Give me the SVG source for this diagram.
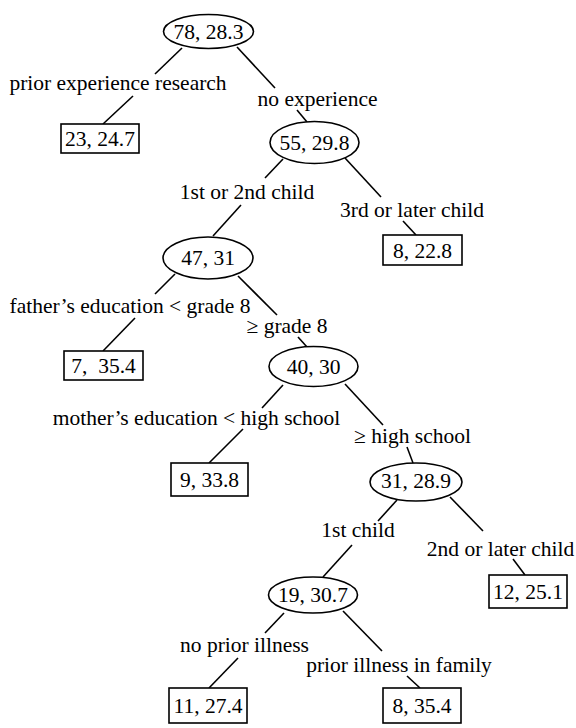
<svg xmlns="http://www.w3.org/2000/svg" width="576" height="728" viewBox="0 0 576 728">
<style>
text{font-family:"Liberation Serif","Times New Roman",serif;font-size:21.5px;fill:#000;text-anchor:middle}
.n ellipse,.n rect{fill:#fff;stroke:#000;stroke-width:1.6}
#edges line{stroke:#000;stroke-width:1.6}
</style>
<rect width="576" height="728" fill="#fff"/>
<g id="edges">
<line x1="182" y1="48" x2="155" y2="74"/><line x1="133" y1="96" x2="103" y2="124"/>
<line x1="237" y1="47" x2="275" y2="88"/><line x1="297" y1="110" x2="307" y2="122"/>
<line x1="283" y1="159" x2="265" y2="178"/><line x1="241" y1="205" x2="213" y2="236"/>
<line x1="345" y1="158" x2="381" y2="197"/><line x1="403" y1="221" x2="416" y2="235"/>
<line x1="175" y1="274" x2="155" y2="294"/><line x1="135" y1="318" x2="103" y2="351"/>
<line x1="238" y1="276" x2="277" y2="315"/><line x1="298" y1="337" x2="307" y2="347"/>
<line x1="283" y1="385" x2="262" y2="408"/><line x1="243" y1="429" x2="209" y2="463"/>
<line x1="345" y1="384" x2="383" y2="425"/><line x1="407" y1="447" x2="413" y2="463"/>
<line x1="397" y1="500" x2="378" y2="521"/><line x1="352" y1="545" x2="323" y2="577"/>
<line x1="450" y1="497" x2="483" y2="531"/><line x1="513" y1="559" x2="525" y2="575"/>
<line x1="284" y1="613" x2="265" y2="633"/><line x1="238" y1="658" x2="209" y2="688"/>
<line x1="343" y1="611" x2="382" y2="651"/><line x1="407" y1="676" x2="420" y2="688"/>
</g>
<g id="labels">
<text x="118" y="90">prior experience research</text>
<text x="317.5" y="106">no experience</text>
<text x="247" y="199">1st or 2nd child</text>
<text x="412" y="217">3rd or later child</text>
<text x="130" y="313">father’s education &lt; grade 8</text>
<text x="287" y="333">≥ grade 8</text>
<text x="196.5" y="425">mother’s education &lt; high school</text>
<text x="412.5" y="443">≥ high school</text>
<text x="358" y="537">1st child</text>
<text x="500.5" y="556">2nd or later child</text>
<text x="244.5" y="652">no prior illness</text>
<text x="399" y="672">prior illness in family</text>
</g>
<g id="n1" class="n"><ellipse cx="208.5" cy="31.5" rx="45" ry="17"/><text x="208.5" y="39">78, 28.3</text></g>
<g id="n2" class="n"><rect x="61" y="124" width="78" height="29"/><text x="100" y="146">23, 24.7</text></g>
<g id="n3" class="n"><ellipse cx="314.5" cy="142.5" rx="44.5" ry="21"/><text x="314.5" y="150">55, 29.8</text></g>
<g id="n4" class="n"><rect x="383" y="235" width="79" height="30"/><text x="422.5" y="258">8, 22.8</text></g>
<g id="n5" class="n"><ellipse cx="208" cy="258" rx="45" ry="21"/><text x="208" y="265">47, 31</text></g>
<g id="n6" class="n"><rect x="64" y="351" width="79" height="29"/><text x="103.5" y="373" xml:space="preserve">7,  35.4</text></g>
<g id="n7" class="n"><ellipse cx="313.5" cy="366.5" rx="44.5" ry="20"/><text x="313.5" y="374">40, 30</text></g>
<g id="n8" class="n"><rect x="171" y="463" width="77" height="33"/><text x="209.5" y="487">9, 33.8</text></g>
<g id="n9" class="n"><ellipse cx="416" cy="482" rx="46" ry="19"/><text x="416" y="488">31, 28.9</text></g>
<g id="n10" class="n"><rect x="489" y="575" width="78" height="33"/><text x="528" y="599">12, 25.1</text></g>
<g id="n11" class="n"><ellipse cx="313" cy="595" rx="44.5" ry="18"/><text x="313" y="602">19, 30.7</text></g>
<g id="n12" class="n"><rect x="169" y="688" width="78" height="35"/><text x="208" y="713">11, 27.4</text></g>
<g id="n13" class="n"><rect x="383" y="688" width="78" height="35"/><text x="422" y="713">8, 35.4</text></g>
</svg>
